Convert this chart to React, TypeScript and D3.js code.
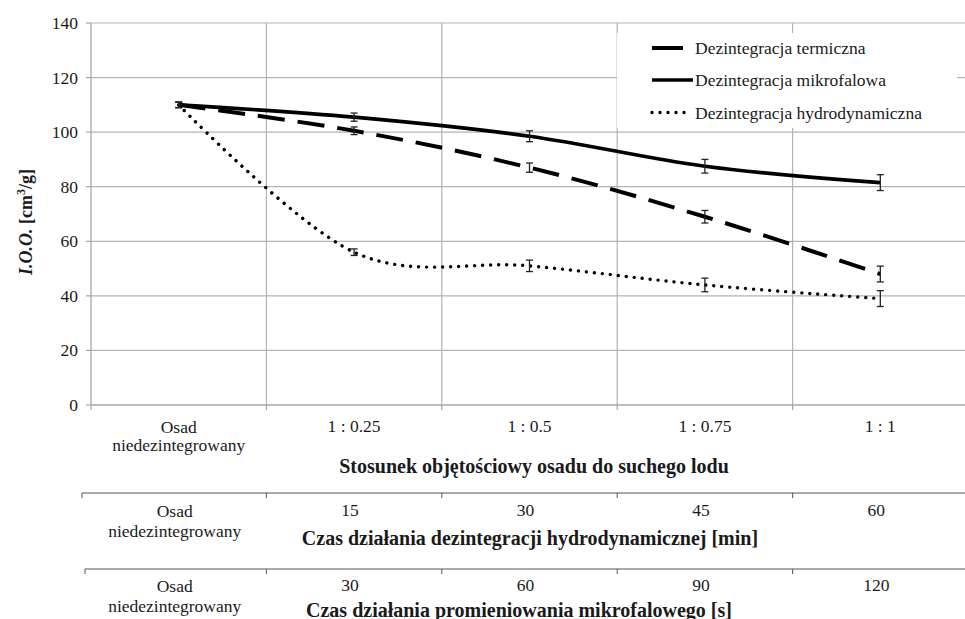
import React from "react";
import * as d3 from "d3";

// ---------- data ----------
const categories = ["Osad|niedezintegrowany", "1 : 0.25", "1 : 0.5", "1 : 0.75", "1 : 1"];
const hydroTimeLabels = ["Osad|niedezintegrowany", "15", "30", "45", "60"];
const microTimeLabels = ["Osad|niedezintegrowany", "30", "60", "90", "120"];

const thermal = [110, 100.5, 87, 69, 48];
const thermalErr = [1, 1.4, 1.7, 2.3, 2.9];
const microwave = [110, 105.5, 98.5, 87.5, 81.5];
const microwaveErr = [1, 1.5, 2, 2.5, 2.9];
const hydro = [110, 56, 51, 44, 39];
const hydroErr = [1, 1.2, 2.1, 2.5, 2.9];

const yTicks = [0, 20, 40, 60, 80, 100, 120, 140];

const legendNames = [
  "Dezintegracja termiczna",
  "Dezintegracja mikrofalowa",
  "Dezintegracja hydrodynamiczna",
];

const xTitle1 = "Stosunek objętościowy osadu do suchego lodu";
const xTitle2 = "Czas działania dezintegracji hydrodynamicznej [min]";
const xTitle3 = "Czas działania promieniowania mikrofalowego [s]";

// ---------- layout ----------
const W = 965;
const H = 619;
const FONT = '"Liberation Serif", "Times New Roman", Times, "DejaVu Serif", serif';
const TXT = "#1a1a1a";
const GRID = "#b3b3b3";

export default function App() {
  const x = d3.scaleBand<number>().domain(d3.range(categories.length)).range([91, 968]);
  const bw = x.bandwidth();
  const cx = (i: number) => (x(i) as number) + bw / 2;
  const y = d3.scaleLinear().domain([0, 140]).range([405, 23]);

  const line = d3
    .line<number>()
    .x((_, i) => cx(i))
    .y((d) => y(d))
    .curve(d3.curveCardinal.tension(0));

  const series = [
    { name: legendNames[0], values: thermal, err: thermalErr, width: 4, dash: "27 13", cap: "butt" },
    { name: legendNames[1], values: microwave, err: microwaveErr, width: 3.6, dash: undefined, cap: "butt" },
    { name: legendNames[2], values: hydro, err: hydroErr, width: 3.4, dash: "0.01 8", cap: "round" },
  ];

  const boundaries = d3.range(categories.length + 1).map((i) =>
    i < categories.length ? (x(i) as number) : (x(categories.length - 1) as number) + bw
  );

  const catLabel = (label: string, i: number, y1: number, y2: number, dx = 0) => {
    const parts = label.split("|");
    if (parts.length === 2) {
      return (
        <g key={i}>
          <text x={cx(i) + dx} y={y1} textAnchor="middle">{parts[0]}</text>
          <text x={cx(i) + dx} y={y2} textAnchor="middle">{parts[1]}</text>
        </g>
      );
    }
    return (
      <text key={i} x={cx(i) + dx} y={y1 - 1} textAnchor="middle">{label}</text>
    );
  };

  const lowerAxis = (labels: string[], ly: number, startX: number, row1: number, row2: number, title: string, titleX: number, titleY: number, dx: number) => (
    <g>
      <line x1={startX} x2={W} y1={ly} y2={ly} stroke="#555" strokeWidth={1.2} />
      {[startX, ...boundaries.slice(1, categories.length)].map((bx, i) => (
        <line key={i} x1={bx} x2={bx} y1={ly} y2={ly + 5} stroke="#555" strokeWidth={1} />
      ))}
      <g fontSize={17.5} fill={TXT}>
        {labels.map((l, i) => catLabel(l, i, row1, row2, dx))}
      </g>
      <text x={titleX} y={titleY} textAnchor="middle" fontSize={20} fontWeight="bold" fill={TXT}>
        {title}
      </text>
    </g>
  );

  return (
    <svg
      width={W}
      height={H}
      style={{ position: "absolute", left: 0, top: 0, background: "#fff", fontFamily: FONT }}
    >
      <rect x={0} y={0} width={W} height={H} fill="#fff" />

      {/* horizontal gridlines */}
      {yTicks.filter((t) => t > 0).map((t) => (
        <line key={t} x1={91} x2={W} y1={y(t)} y2={y(t)} stroke={GRID} strokeWidth={1.2} />
      ))}
      {/* vertical gridlines */}
      {boundaries.slice(1).map((bx, i) => (
        <line key={i} x1={bx} x2={bx} y1={y(140)} y2={y(0)} stroke={GRID} strokeWidth={1.2} />
      ))}
      {/* axes */}
      <line x1={91} x2={91} y1={y(140)} y2={y(0)} stroke="#a6a6a6" strokeWidth={1.3} />
      <line x1={91} x2={W} y1={y(0)} y2={y(0)} stroke="#a6a6a6" strokeWidth={1.3} />
      {yTicks.map((t) => (
        <line key={t} x1={86} x2={91} y1={y(t)} y2={y(t)} stroke="#a6a6a6" strokeWidth={1.2} />
      ))}
      {boundaries.map((bx, i) => (
        <line key={i} x1={bx} x2={bx} y1={y(0)} y2={y(0) + 5} stroke="#a6a6a6" strokeWidth={1.2} />
      ))}

      {/* y tick labels */}
      <g fontSize={17.5} fill={TXT}>
        {yTicks.map((t) => (
          <text key={t} x={78} y={y(t) + 6} textAnchor="end">{t}</text>
        ))}
      </g>

      {/* y title */}
      <text
        transform={`translate(32, 222) rotate(-90)`}
        textAnchor="middle"
        fontSize={18}
        fontWeight="bold"
        fill={TXT}
      >
        <tspan fontStyle="italic">I.O.O.</tspan>
        <tspan> [cm</tspan>
        <tspan dy={-7} fontSize={12}>3</tspan>
        <tspan dy={7}>/g]</tspan>
      </text>

      {/* legend box */}
      <rect x={617} y={33} width={340} height={95} fill="#fff" />
      {series.map((s, i) => {
        const ly = [48, 80, 112.5][i];
        const x2 = [683, 693, 689][i];
        return (
          <g key={i}>
            <line
              x1={652}
              x2={x2}
              y1={ly}
              y2={ly}
              stroke="#000"
              strokeWidth={s.width}
              strokeDasharray={i === 0 ? undefined : s.dash}
              strokeLinecap={s.cap as any}
            />
            <text x={695} y={ly + 6} fontSize={17.5} fill={TXT}>{s.name}</text>
          </g>
        );
      })}

      {/* series lines */}
      {series.map((s, i) => (
        <path
          key={i}
          d={line(s.values) || ""}
          fill="none"
          stroke="#000"
          strokeWidth={s.width}
          strokeDasharray={s.dash}
          strokeLinecap={s.cap as any}
        />
      ))}

      {/* error bars */}
      {series.map((s, si) =>
        s.values.map((v, i) => {
          const px = cx(i);
          const top = y(v + s.err[i]);
          const bot = y(v - s.err[i]);
          return (
            <g key={`${si}-${i}`} stroke="#222" strokeWidth={1.3}>
              <line x1={px} x2={px} y1={top} y2={bot} />
              <line x1={px - 3.5} x2={px + 3.5} y1={top} y2={top} />
              <line x1={px - 3.5} x2={px + 3.5} y1={bot} y2={bot} />
            </g>
          );
        })
      )}

      {/* main category labels */}
      <g fontSize={17.5} fill={TXT}>
        {categories.map((c, i) => catLabel(c, i, 433, 451))}
      </g>
      <text x={534} y={473} textAnchor="middle" fontSize={20} fontWeight="bold" fill={TXT}>
        {xTitle1}
      </text>

      {/* second axis */}
      {lowerAxis(hydroTimeLabels, 493, 82, 517, 537, xTitle2, 530, 545, -4)}
      {/* third axis */}
      {lowerAxis(microTimeLabels, 569, 85, 592, 612, xTitle3, 519, 617, -4)}
    </svg>
  );
}
